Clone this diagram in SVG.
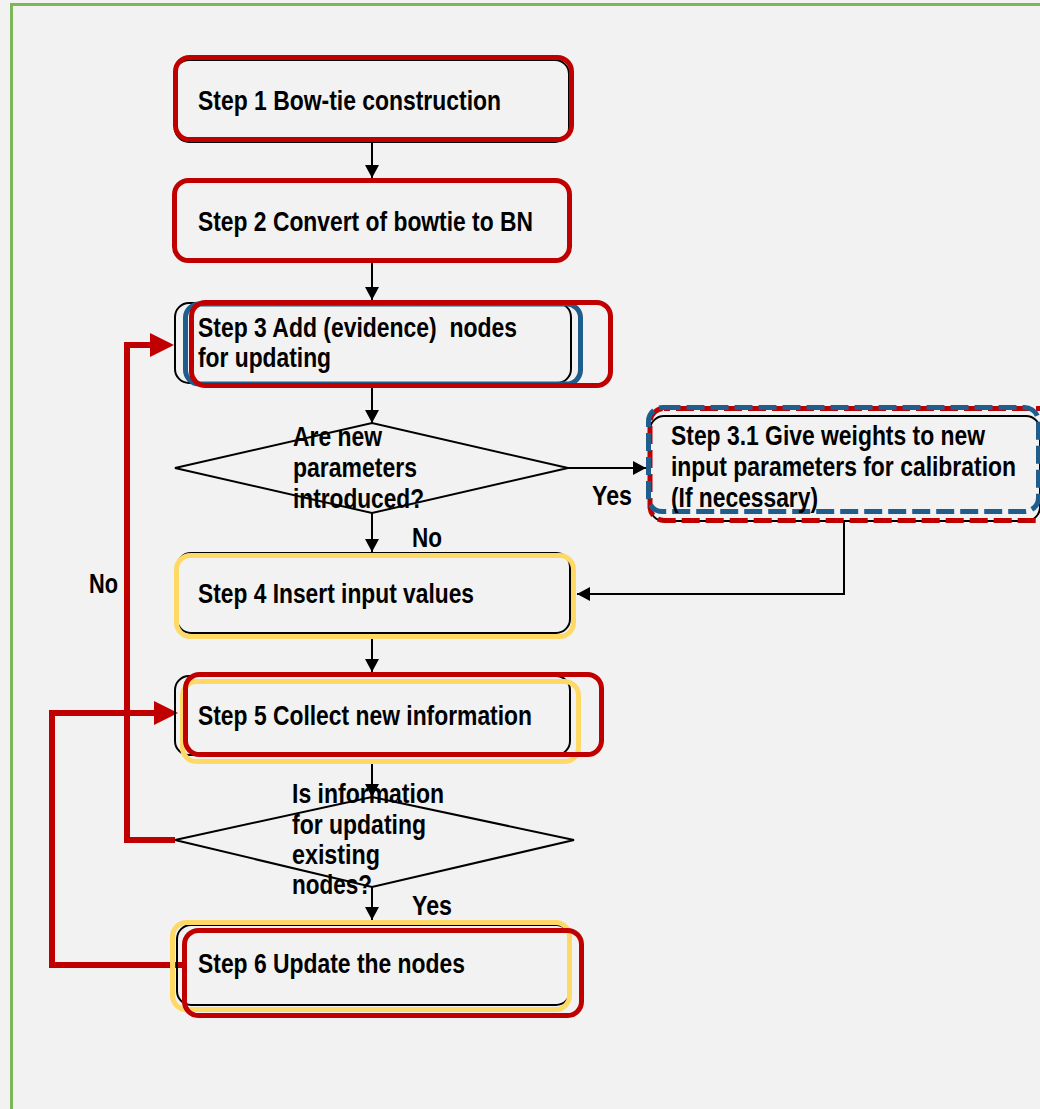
<svg xmlns="http://www.w3.org/2000/svg" width="1040" height="1109" viewBox="0 0 1040 1109">
  <style>
    .lbl { font-family: "Liberation Sans Narrow", "Liberation Sans", Arial, sans-serif; font-weight: bold; font-size: 28px; fill: #000; }
    .edge { fill: none; stroke: #000; stroke-width: 2; }
    .back { fill: none; stroke: #000; stroke-width: 2; }
    .red { fill: none; stroke: #c00000; stroke-width: 5; }
    .blue { fill: none; stroke: #1f5e8c; stroke-width: 5; }
    .yel { fill: none; stroke: #ffd966; stroke-width: 5; }
    .dash { stroke-dasharray: 18 6; }
    .loop { fill: none; stroke: #c00000; stroke-width: 6; }
    .dia { fill: none; stroke: #000; stroke-width: 2; }
  </style>
  <defs>
    <marker id="arrow" markerUnits="userSpaceOnUse" markerWidth="16" markerHeight="16" refX="13" refY="7" orient="auto">
      <path d="M0,0 L13,7 L0,14 z" fill="#000"/>
    </marker>
  </defs>

  <!-- page background and frame -->
  <rect x="0" y="0" width="1040" height="1109" fill="#f2f2f2"/>
  <rect x="11.5" y="4.5" width="1100" height="1200" fill="none" stroke="#7cb659" stroke-width="3"/>

  <!-- red feedback loops -->
  <g id="loops">
    <path class="loop" d="M175,840 H127 V345 H152"/>
    <polygon points="150,333 174,345 150,357" fill="#c00000"/>
    <path class="loop" d="M184,965 H52 V713 H156"/>
    <polygon points="154,701 178,713 154,725" fill="#c00000"/>
  </g>

  <!-- black connectors -->
  <g id="connectors">
    <line class="edge" x1="372" y1="142" x2="372" y2="178" marker-end="url(#arrow)"/>
    <line class="edge" x1="372" y1="263" x2="372" y2="300" marker-end="url(#arrow)"/>
    <line class="edge" x1="372" y1="388" x2="372" y2="423" marker-end="url(#arrow)"/>
    <line class="edge" x1="372" y1="513" x2="372" y2="552" marker-end="url(#arrow)"/>
    <line class="edge" x1="568" y1="468" x2="646" y2="468" marker-end="url(#arrow)"/>
    <path class="edge" d="M844,521 V594 H577" marker-end="url(#arrow)"/>
    <line class="edge" x1="372" y1="639" x2="372" y2="672" marker-end="url(#arrow)"/>
    <line class="edge" x1="372" y1="764" x2="372" y2="797" marker-end="url(#arrow)"/>
    <line class="edge" x1="372" y1="887" x2="372" y2="920" marker-end="url(#arrow)"/>
  </g>

  <g id="step1">
    <rect class="back" x="175" y="60" width="394" height="82" rx="14"/>
    <rect class="red" x="175.5" y="57.5" width="396" height="82" rx="14"/>
    <text class="lbl" x="198" y="110" textLength="303" lengthAdjust="spacingAndGlyphs">Step 1 Bow-tie construction</text>
  </g>

  <g id="step2">
    <rect class="red" x="174.5" y="180.5" width="395" height="80" rx="14"/>
    <text class="lbl" x="198" y="231" textLength="335" lengthAdjust="spacingAndGlyphs">Step 2 Convert of bowtie to BN</text>
  </g>

  <g id="step3">
    <rect class="back" x="175" y="303" width="396" height="80" rx="14"/>
    <rect class="blue" x="185.5" y="304" width="395" height="80" rx="14"/>
    <rect class="red" x="191.5" y="302.5" width="419" height="83" rx="14"/>
    <text class="lbl" x="198" y="337" xml:space="preserve" textLength="319" lengthAdjust="spacingAndGlyphs">Step 3 Add (evidence)  nodes</text>
    <text class="lbl" x="198" y="367" textLength="133" lengthAdjust="spacingAndGlyphs">for updating</text>
  </g>

  <g id="decision1">
    <polygon class="dia" points="175,468 372,423 568,468 372,513"/>
    <text class="lbl" x="293" y="446" textLength="89" lengthAdjust="spacingAndGlyphs">Are new</text>
    <text class="lbl" x="293" y="477" textLength="124" lengthAdjust="spacingAndGlyphs">parameters</text>
    <text class="lbl" x="293" y="508" textLength="131" lengthAdjust="spacingAndGlyphs">introduced?</text>
  </g>

  <g id="labels">
    <text class="lbl" x="592" y="505" textLength="40" lengthAdjust="spacingAndGlyphs">Yes</text>
    <text class="lbl" x="412" y="547" textLength="30" lengthAdjust="spacingAndGlyphs">No</text>
    <text class="lbl" x="89" y="593" textLength="29" lengthAdjust="spacingAndGlyphs">No</text>
    <text class="lbl" x="412" y="915" textLength="40" lengthAdjust="spacingAndGlyphs">Yes</text>
  </g>

  <g id="step3_1">
    <rect class="back" x="650" y="416" width="390" height="105" rx="14"/>
    <rect class="red dash" x="650" y="408.5" width="420" height="112" rx="14" stroke-dashoffset="12"/>
    <rect class="blue dash" x="648.5" y="407.5" width="390" height="104" rx="14"/>
    <text class="lbl" x="671" y="445" textLength="314" lengthAdjust="spacingAndGlyphs">Step 3.1 Give weights to new</text>
    <text class="lbl" x="671" y="476" textLength="345" lengthAdjust="spacingAndGlyphs">input parameters for calibration</text>
    <text class="lbl" x="671" y="507" textLength="147" lengthAdjust="spacingAndGlyphs">(If necessary)</text>
  </g>

  <g id="step4">
    <rect class="back" x="177" y="553" width="393" height="80" rx="14"/>
    <rect class="yel" x="176.5" y="555.5" width="397" height="81" rx="14"/>
    <text class="lbl" x="198" y="603" textLength="276" lengthAdjust="spacingAndGlyphs">Step 4 Insert input values</text>
  </g>

  <g id="step5">
    <rect class="back" x="175" y="676" width="395" height="79" rx="14"/>
    <rect class="yel" x="182.5" y="681.5" width="396" height="80" rx="14"/>
    <rect class="red" x="185.5" y="674.5" width="416" height="80" rx="14"/>
    <text class="lbl" x="198" y="725" textLength="334" lengthAdjust="spacingAndGlyphs">Step 5 Collect new information</text>
  </g>

  <g id="decision2">
    <polygon class="dia" points="175,840 372,797 574,840 372,887"/>
    <text class="lbl" x="292" y="803" textLength="152" lengthAdjust="spacingAndGlyphs">Is information</text>
    <text class="lbl" x="292" y="834" textLength="134" lengthAdjust="spacingAndGlyphs">for updating</text>
    <text class="lbl" x="292" y="864" textLength="88" lengthAdjust="spacingAndGlyphs">existing</text>
    <text class="lbl" x="292" y="894" textLength="80" lengthAdjust="spacingAndGlyphs">nodes?</text>
  </g>

  <g id="step6">
    <rect class="back" x="177" y="925" width="393" height="80" rx="14"/>
    <rect class="yel" x="172.5" y="922.5" width="397" height="87" rx="14"/>
    <rect class="red" x="184.5" y="930.5" width="397" height="85" rx="14"/>
    <text class="lbl" x="198" y="973" textLength="267" lengthAdjust="spacingAndGlyphs">Step 6 Update the nodes</text>
  </g>
</svg>
